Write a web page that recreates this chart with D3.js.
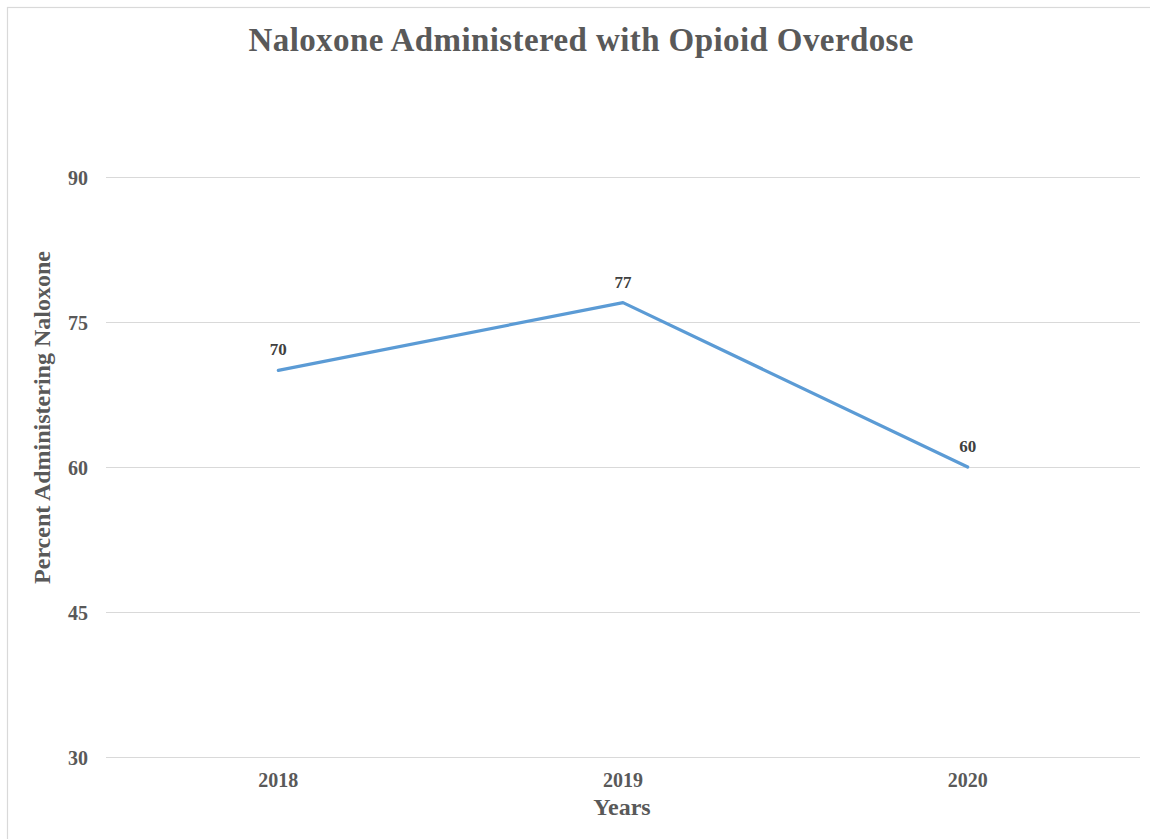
<!DOCTYPE html>
<html>
<head>
<meta charset="utf-8">
<script src="https://cdn.jsdelivr.net/npm/d3@7"></script>
<style>
  html, body { margin: 0; padding: 0; background: #fff; }
  svg { display: block; }
</style>
</head>
<body>
<svg id="chart" width="1150" height="839"></svg>
<script>
// Chart data
const years = ["2018", "2019", "2020"];
const percentValues = [70, 77, 60];
const yTickValues = [30, 45, 60, 75, 90];

const chartTitle = "Naloxone Administered with Opioid Overdose";
const xTitle = "Years";
const yTitle = "Percent Administering Naloxone";

const W = 1150, H = 839;
const plot = { left: 106, right: 1140, top: 177, bottom: 757 };
const FONT = "'Times New Roman', 'Liberation Serif', Times, serif";
const INK = "#595959";

const svg = d3.select("#chart");

function styleText(sel, size, color) {
  sel.style("font-family", FONT)
     .style("font-weight", "bold")
     .style("font-size", size + "px")
     .attr("fill", color || INK);
  return sel;
}

// outer chart frame
svg.append("rect")
  .attr("x", 7.5).attr("y", 7.5)
  .attr("width", W + 10).attr("height", H + 10)
  .attr("fill", "#fff")
  .attr("stroke", "#d9d9d9").attr("stroke-width", 1.2);

const x = d3.scaleBand().domain(years).range([plot.left, plot.right]);
const y = d3.scaleLinear().domain([30, 90]).range([plot.bottom, plot.top]);

// horizontal gridlines + y labels
const yAxis = d3.axisLeft(y).tickValues(yTickValues).tickSize(-(plot.right - plot.left)).tickPadding(18);
const gy = svg.append("g").attr("transform", `translate(${plot.left},0)`).call(yAxis);
gy.select(".domain").remove();
gy.selectAll(".tick line").attr("stroke", "#d9d9d9").attr("stroke-width", 1);
styleText(gy.selectAll(".tick text").attr("dy", "0.35em"), 20);

// x labels
const xAxis = d3.axisBottom(x).tickSize(0).tickPadding(16);
const gx = svg.append("g").attr("transform", `translate(0,${plot.bottom})`).call(xAxis);
gx.select(".domain").remove();
styleText(gx.selectAll(".tick text"), 20);

// series line
const pts = years.map((yr, i) => ({ yr, v: percentValues[i] }));
const line = d3.line()
  .x(d => x(d.yr) + x.bandwidth() / 2)
  .y(d => y(d.v));
svg.append("path")
  .datum(pts)
  .attr("d", line)
  .attr("fill", "none")
  .attr("stroke", "#5B9BD5")
  .attr("stroke-width", 3.2)
  .attr("stroke-linejoin", "round")
  .attr("stroke-linecap", "round");

// value labels
styleText(svg.selectAll(".vlabel").data(pts).enter().append("text")
  .attr("class", "vlabel")
  .attr("x", d => x(d.yr) + x.bandwidth() / 2)
  .attr("y", d => y(d.v) - 15)
  .attr("text-anchor", "middle")
  .text(d => d.v), 17, "#404040");

// titles
styleText(svg.append("text")
  .attr("x", 581).attr("y", 51)
  .attr("text-anchor", "middle")
  .attr("textLength", 665)
  .attr("lengthAdjust", "spacing")
  .text(chartTitle), 33);

styleText(svg.append("text")
  .attr("x", 622).attr("y", 815)
  .attr("text-anchor", "middle")
  .text(xTitle), 24);

styleText(svg.append("text")
  .attr("transform", `translate(50,${(250 + 585) / 2}) rotate(-90)`)
  .attr("text-anchor", "middle")
  .text(yTitle), 24);
</script>
</body>
</html>
